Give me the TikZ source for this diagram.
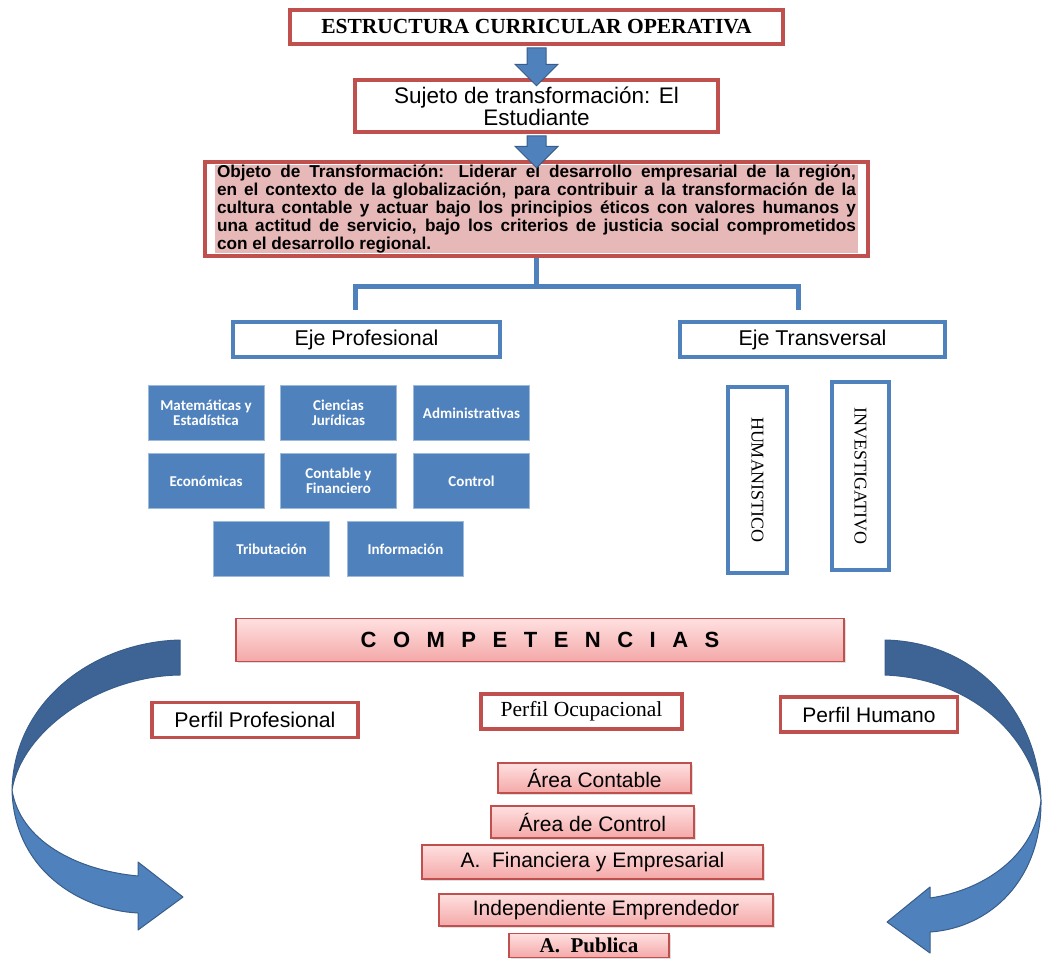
\documentclass[tikz,border=0pt]{standalone}
\usepackage{fontspec}
\setmainfont{Liberation Sans}
\newfontfamily\timesfont{Liberation Serif}
\newfontfamily\calibfont{Carlito}
\usetikzlibrary{shapes.arrows,fit,calc,shadows}

\definecolor{boxred}{RGB}{192,80,77}
\definecolor{boxblue}{RGB}{79,129,189}
\definecolor{darkblue}{RGB}{56,93,138}
\definecolor{arrowtop}{RGB}{62,100,150}
\definecolor{objpink}{RGB}{230,185,184}
\definecolor{pinktop}{RGB}{255,224,224}
\definecolor{pinkbot}{RGB}{244,168,168}

\tikzset{
  redbox/.style={draw=boxred, line width=3.5pt, fill=white, inner sep=0pt},
  axisbox/.style={draw=boxblue, line width=3.5pt, fill=white, inner sep=0pt, minimum height=35pt, font=\fontsize{21.4}{21.4}\selectfont},
  cellbox/.style={draw=boxblue!55!white, line width=0.8pt, fill=boxblue, text=white, minimum width=116pt, minimum height=55pt, inner sep=0pt, align=center, font=\calibfont\bfseries\fontsize{15}{15}\selectfont},
  vertbox/.style={draw=boxblue, line width=3.5pt, fill=white, rotate=-90, inner sep=0pt, font=\timesfont\fontsize{18}{18}\selectfont},
  pinkbox/.style={draw=boxred, line width=1.2pt, top color=pinktop, bottom color=pinkbot, inner sep=0pt, drop shadow={opacity=0.25, shadow xshift=1.5pt, shadow yshift=-1.5pt}, font=\fontsize{21}{21}\selectfont},
  blockarrow/.style={single arrow, shape border rotate=270, fill=boxblue, draw=darkblue, line width=1pt, single arrow head extend=12pt, inner sep=9pt, minimum height=#1},
  conn/.style={draw=boxblue, line width=5pt},
  bigarrow/.style={draw=darkblue, line width=1pt, line join=round}
}

\begin{document}
\begin{tikzpicture}[x=1pt, y=-1pt]
  \useasboundingbox (0,0) rectangle (1042,959);

  % top of the structure
  \node[redbox, minimum width=493pt, minimum height=34pt, font=\timesfont\bfseries\fontsize{21.5}{21.5}\selectfont] (title) at (536.5,27) {ESTRUCTURA CURRICULAR OPERATIVA};
  \node[redbox, minimum width=363pt, minimum height=52pt, align=center, font=\fontsize{22.5}{20}\selectfont] (sujeto) at (536.5,106) {Sujeto de transformación: El\\Estudiante};
  \node[fill=objpink, inner xsep=2pt, inner ysep=0pt, text width=639pt, align=justify, font=\bfseries\fontsize{17.2}{17.8}\selectfont] (objtext) at (536.5,209)
    {\hyphenpenalty=10000 \emergencystretch=20pt Objeto de Transformación: Liderar el desarrollo empresarial de la región,\linebreak
     en el contexto de la globalización, para contribuir a la transformación de la\linebreak
     cultura contable y actuar bajo los principios éticos con valores humanos y\linebreak
     una actitud de servicio, bajo los criterios de justicia social comprometidos\linebreak
     con el desarrollo regional.};
  \node[draw=boxred, line width=3.5pt, inner xsep=10pt, inner ysep=3pt, fit=(objtext)] (objeto) {};

  % block arrows
  \node[blockarrow=38pt] (down1) at ($(title.south)!0.5!(sujeto.north)$) {};
  \node[blockarrow=32pt] (down2) at ($(sujeto.south)!0.5!(objeto.north)$) {};

  % ejes
  \node[axisbox, minimum width=267pt] (ejeprof) at (366.5,339.5) {Eje Profesional};
  \node[axisbox, minimum width=265pt] (ejetrans) at (812.5,339.5) {Eje Transversal};

  \draw[conn] (objeto.south) -- ++(0,29) coordinate (fork);
  \draw[conn] ($(ejeprof.north)+(-11,-10)$) |- (fork) -| ($(ejetrans.north)+(-14,-10)$);

  % eje profesional areas
  \node[cellbox] (mate) at (206,413) {Matemáticas y\\Estadística};
  \node[cellbox] (cien) at (338.5,413) {Ciencias\\Jurídicas};
  \node[cellbox] (admin) at (471.5,413) {Administrativas};
  \node[cellbox] (econ) at (206,481) {Económicas};
  \node[cellbox] (conta) at (338.5,481) {Contable y\\Financiero};
  \node[cellbox] (ctrl) at (471.5,481) {Control};
  \node[cellbox] (trib) at (271.5,549) {Tributación};
  \node[cellbox] (info) at (405.5,549) {Información};

  % eje transversal
  \node[vertbox, minimum width=186pt, minimum height=59pt] (human) at (757.5,480) {HUMANISTICO};
  \node[vertbox, minimum width=188pt, minimum height=57pt] (invest) at (860.5,476) {INVESTIGATIVO};

  % competencias
  \node[pinkbox, minimum width=608pt, minimum height=43pt, font=\bfseries\fontsize{22}{22}\selectfont] (compet) at (540,640)
    {\spaceskip=16.5pt C O M P E T E N C I A S};

  % curved arrows
  \path[bigarrow, fill=arrowtop] (180,640) .. controls (95,642) and (14,700) .. (12,790)
    .. controls (22,730) and (100,676) .. (180,675) -- cycle;
  \path[bigarrow, fill=boxblue] (12,790) .. controls (14,870) and (80,910) .. (138,913)
    -- (138,930) -- (183,897) -- (138,862) -- (138,876)
    .. controls (75,870) and (20,840) .. (12,790) -- cycle;
  \path[bigarrow, fill=arrowtop] (885,640) .. controls (975,642) and (1038,710) .. (1041,800)
    .. controls (1030,730) and (965,678) .. (885,675) -- cycle;
  \path[bigarrow, fill=boxblue] (1041,800) .. controls (1042,880) and (990,928) .. (930,932)
    -- (930,953) -- (887,922) -- (930,887) -- (930,898)
    .. controls (985,890) and (1035,855) .. (1041,800) -- cycle;

  % perfiles
  \node[redbox, minimum width=206pt, minimum height=35pt, font=\fontsize{21.3}{21.3}\selectfont] (pprof) at (255,720) {Perfil Profesional};
  \node[redbox, minimum width=201pt, minimum height=35pt, font=\timesfont\fontsize{21.5}{21.5}\selectfont] (pocup) at (581.5,711.5) {Perfil Ocupacional};
  \node[redbox, minimum width=177pt, minimum height=35pt, font=\fontsize{21}{21}\selectfont] (phum) at (869,714.5) {Perfil Humano};

  % areas
  \node[pinkbox, minimum width=193pt, minimum height=30pt] (acont) at (594.5,778) {Área Contable};
  \node[pinkbox, minimum width=203pt, minimum height=32pt] (actrl) at (592.5,822) {Área de Control};
  \node[pinkbox, minimum width=341pt, minimum height=34pt] (afin) at (592.5,862) {A.~~Financiera y Empresarial};
  \node[pinkbox, minimum width=334pt, minimum height=32pt] (aind) at (606,910) {Independiente Emprendedor};
  \node[pinkbox, minimum width=160pt, minimum height=24pt, font=\timesfont\bfseries\fontsize{21}{21}\selectfont] (apub) at (589,945.5) {A.~~Publica};

\end{tikzpicture}
\end{document}
